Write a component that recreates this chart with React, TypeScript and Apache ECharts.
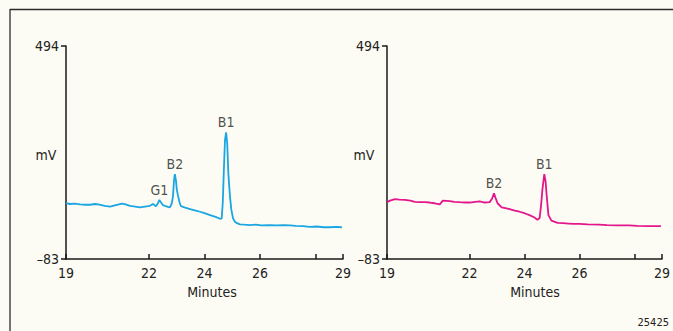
import React, { useEffect, useRef } from 'react';
import * as echarts from 'echarts';

// Axis ticks / labels
const timeTicks = [19, 22, 24, 26, 28, 29];
const timeLabels = [19, 22, 24, 26, 29];
const mvTicks = [-83, 494];

// Left chromatogram (minutes, mV)
const leftTime = [19.0, 19.15, 19.3, 19.51, 19.7, 19.87, 20.05, 20.2, 20.4, 20.59, 20.8, 21.02, 21.15, 21.31, 21.5, 21.67, 21.85, 22.03, 22.14, 22.25, 22.32, 22.37, 22.43, 22.5, 22.6, 22.68, 22.75, 22.82, 22.86, 22.9, 22.93, 22.97, 23.0, 23.04, 23.1, 23.15, 23.3, 23.48, 23.65, 23.84, 24.0, 24.2, 24.4, 24.56, 24.62, 24.66, 24.7, 24.74, 24.78, 24.82, 24.86, 24.92, 24.97, 25.03, 25.1, 25.17, 25.28, 25.45, 25.64, 25.85, 26.05, 26.36, 26.6, 26.85, 27.09, 27.3, 27.55, 27.81, 28.05, 28.3, 28.53, 28.75, 28.96];
const leftMv = [68, 66, 67, 65, 64, 64, 66, 64, 61, 59, 63, 67, 65, 61, 59, 57, 59, 61, 66, 60, 68, 77, 70, 63, 60, 58, 57, 68, 86, 130, 147, 130, 105, 90, 70, 60, 56, 52, 49, 45, 41, 36, 31, 26, 27, 70, 160, 240, 260, 230, 150, 86, 50, 27, 18, 14, 11, 10, 9, 10, 8, 9, 8, 9, 8, 7, 6, 4, 5, 3, 3, 4, 3];

// Right chromatogram (minutes, mV)
const rightTime = [19.0, 19.11, 19.29, 19.45, 19.65, 19.85, 20.01, 20.2, 20.38, 20.55, 20.74, 20.92, 21.03, 21.28, 21.45, 21.64, 21.85, 22.01, 22.2, 22.37, 22.55, 22.73, 22.82, 22.89, 22.95, 23.02, 23.17, 23.3, 23.46, 23.65, 23.82, 24.0, 24.18, 24.35, 24.47, 24.55, 24.6, 24.65, 24.72, 24.77, 24.8, 24.87, 24.98, 25.2, 25.4, 25.6, 25.8, 25.99, 26.3, 26.72, 27.0, 27.4, 27.8, 28.1, 28.5, 28.96];
const rightMv = [71, 75, 79, 78, 77, 75, 72, 71, 71, 70, 68, 65, 75, 74, 72, 71, 70, 70, 72, 73, 70, 71, 80, 95, 82, 68, 57, 55, 52, 48, 45, 41, 36, 30, 23, 28, 60, 104, 147, 125, 95, 36, 21, 15, 14, 13, 12, 12, 11, 10, 9, 8, 8, 7, 6, 6];

// Peak annotations
const leftPeakNames = ['G1', 'B2', 'B1'];
const leftPeakTimes = [22.37, 22.93, 24.78];
const leftPeakMv = [77, 147, 260];
const rightPeakNames = ['B2', 'B1'];
const rightPeakTimes = [22.89, 24.72];
const rightPeakMv = [95, 147];

const FONT = '"Liberation Sans Narrow", "DejaVu Sans Condensed", "Liberation Sans", Arial, sans-serif';
const AXIS = '#1a1a1a';
const TEXT = '#222222';
const CYAN = '#19a6e2';
const MAGENTA = '#e3168b';
const FS = 14;

function zip(a: number[], b: number[]) {
  return a.map((v, i) => [v, b[i]]);
}

export default function App() {
  const ref = useRef<HTMLDivElement>(null);
  useEffect(() => {
    if (!ref.current) return;
    const chart = echarts.init(ref.current, null, { renderer: 'svg' });
    const mkX = (i: number) => ({
      type: 'value', gridIndex: i, min: 19, max: 29,
      axisLine: { show: true, onZero: false, lineStyle: { color: AXIS, width: 1.5 } },
      axisTick: { show: true, inside: true, length: 5, customValues: timeTicks, lineStyle: { color: AXIS, width: 1.5 } },
      axisLabel: { customValues: timeLabels, color: TEXT, fontSize: FS, margin: 7, fontFamily: FONT },
      splitLine: { show: false },
    });
    const mkY = (i: number) => ({
      type: 'value', gridIndex: i, min: -83, max: 494,
      axisLine: { show: true, onZero: false, lineStyle: { color: AXIS, width: 1.5 } },
      axisTick: { show: true, inside: false, length: 5, customValues: mvTicks, lineStyle: { color: AXIS, width: 1.5 } },
      axisLabel: {
        customValues: mvTicks, color: TEXT, fontSize: FS, margin: 7, fontFamily: FONT,
        formatter: (v: number) => (v < 0 ? '\u2013' + Math.abs(v) : String(v)),
      },
      splitLine: { show: false },
    });
    const peakSeries = (i: number, names: string[], times: number[], mv: number[]) => ({
      type: 'scatter', xAxisIndex: i, yAxisIndex: i, symbolSize: 0, silent: true,
      data: times.map((t, k) => ({ value: [t, mv[k]], name: names[k] })),
      label: { show: true, position: 'top', distance: 3, formatter: '{b}', color: TEXT, fontSize: FS, fontFamily: FONT },
    });
    const textEl = (x: number, y: number, text: string, size = FS, align = 'center') => ({
      type: 'text', x, y, silent: true,
      style: { text, fill: TEXT, font: `${size}px ${FONT}`, align, verticalAlign: 'middle' },
    });
    chart.setOption({
      animation: false,
      backgroundColor: '#fdfcf4',
      grid: [
        { left: 66, top: 46, width: 277, height: 213 },
        { left: 387, top: 46, width: 276, height: 213 },
      ],
      xAxis: [mkX(0), mkX(1)],
      yAxis: [mkY(0), mkY(1)],
      series: [
        { type: 'line', xAxisIndex: 0, yAxisIndex: 0, data: zip(leftTime, leftMv), showSymbol: false, lineStyle: { color: CYAN, width: 1.8 }, itemStyle: { color: CYAN } },
        { type: 'line', xAxisIndex: 1, yAxisIndex: 1, data: zip(rightTime, rightMv), showSymbol: false, lineStyle: { color: MAGENTA, width: 1.8 }, itemStyle: { color: MAGENTA } },
        peakSeries(0, leftPeakNames, leftPeakTimes, leftPeakMv),
        peakSeries(1, rightPeakNames, rightPeakTimes, rightPeakMv),
      ],
      graphic: [
        { type: 'line', silent: true, shape: { x1: 10, y1: 9.5, x2: 673, y2: 9.5 }, style: { stroke: '#2a2a2a', lineWidth: 1.3 } },
        { type: 'line', silent: true, shape: { x1: 10, y1: 9, x2: 10, y2: 331 }, style: { stroke: '#2a2a2a', lineWidth: 1.3 } },
        textEl(46, 155, 'mV'),
        textEl(364, 155, 'mV'),
        textEl(212, 292, 'Minutes'),
        textEl(535, 292, 'Minutes'),
        textEl(669, 322, '25425', 11, 'right'),
      ],
    });
    return () => chart.dispose();
  }, []);
  return <div ref={ref} style={{ position: 'fixed', left: 0, top: 0, width: 673, height: 331 }} />;
}
